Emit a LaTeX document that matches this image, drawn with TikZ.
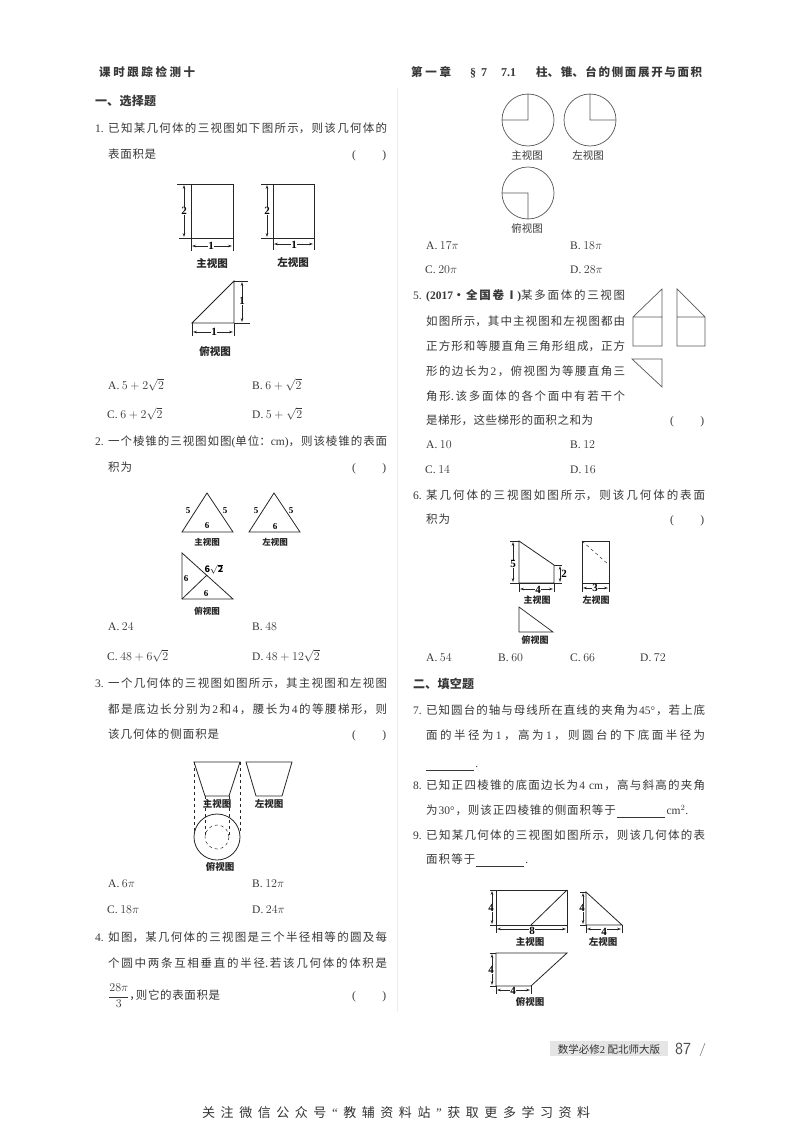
\documentclass[tikz,border=0pt]{standalone}
\usepackage{fontspec}
\setmainfont{Noto Sans CJK SC}
\newfontfamily\latfont{Liberation Serif}
\usetikzlibrary{arrows.meta}
\XeTeXlinebreaklocale "zh"
\XeTeXlinebreakskip=0pt plus 1fil
\setlength{\parindent}{0pt}
\definecolor{inkgray}{gray}{0.22}
\newcommand{\lat}[1]{\hskip 0pt plus 1fil{\latfont #1}\hskip 0pt plus 1fil}
\newcommand{\qnum}[1]{\makebox[13pt][l]{\latfont #1.}}
\newcommand{\slot}{{\latfont (}\hfill{\latfont )}}
\tikzset{
  rowtext/.style={anchor=west,inner sep=0pt,text width=#1,text height=10.5pt,text depth=1pt,
    text=inkgray,font=\fontsize{11.5}{13}\selectfont,execute at begin node={\parfillskip=0pt\relax}},
  choice/.style={anchor=west,inner sep=0pt,text=inkgray,font=\fontsize{11.5}{13}\selectfont},
  capt/.style={inner sep=0pt,text=black!85,font=\fontsize{#1}{#1}\selectfont\bfseries},
  capt/.default=10.5,
  dimlabel/.style={inner sep=0.6pt,fill=white,text=black,font=\fontsize{11}{11}\selectfont\latfont\bfseries},
  plainlabel/.style={inner sep=0pt,text=black,font=\fontsize{9}{9}\selectfont\latfont\bfseries},
  figline/.style={black!85,line width=0.8pt},
  thinline/.style={black!85,line width=0.5pt},
  dimarrow/.style={black!85,line width=0.5pt,{Stealth[length=4pt,width=2.6pt]}-{Stealth[length=4pt,width=2.6pt]}},
  roundline/.style={black!65,line width=0.7pt},
}
\begin{document}
\begin{tikzpicture}[x=1pt,y=-1pt]
\useasboundingbox (0,0) rectangle (800,1121);
\fill[white] (0,0) rectangle (800,1121);
\draw[black!7,line width=0.8pt] (397,88) -- (397,1012);

% Page header
\node[rowtext=96pt,font=\fontsize{11.5}{13}\selectfont\bfseries] (headleft) at (99,72) {课时跟踪检测十};
\node[rowtext=40pt,font=\fontsize{11.5}{13}\selectfont\bfseries] (headch) at (411,72) {第一章};
\node[rowtext=17pt,font=\fontsize{12}{13}\selectfont\latfont\bfseries] (headsec) at (470,72) {\S\hfill 7};
\node[rowtext=21pt,font=\fontsize{12}{13}\selectfont\latfont\bfseries] (headnum) at (501,72) {7.1};
\node[rowtext=166pt,font=\fontsize{11.5}{13}\selectfont\bfseries] (headtitle) at (536,72) {柱、锥、台的侧面展开与面积};
\node[rowtext=61pt,font=\fontsize{12}{13}\selectfont\bfseries] (partone) at (95,101) {一、选择题};

% Question 1
\node[rowtext=292pt] (qonea) at (95,128) {\qnum{1}已知某几何体的三视图如下图所示，则该几何体的};
\node[rowtext=48pt] (qoneb) at (108,154) {表面积是};
\node[rowtext=34pt] (qoneslot) at (352,154) {\slot};
\draw[figline] (191,184) rectangle (233,238);
\draw[thinline] (177,184) -- (191,184) (179,238) -- (191,238) (191,238) -- (191,251) (233,238) -- (233,251);
\draw[dimarrow] (184,185) -- (184,237);
\draw[dimarrow] (192,246) -- (232,246);
\node[dimlabel] (qonetwo) at (184,211) {2};
\node[dimlabel] (qoneone) at (211,246) {1};
\node[capt] (qonemain) at (212,263) {主视图};
\draw[figline] (273,184) rectangle (314,238);
\draw[thinline] (261,184) -- (273,184) (261,238) -- (273,238) (273,238) -- (273,250) (314,238) -- (314,250);
\draw[dimarrow] (267,185) -- (267,237);
\draw[dimarrow] (274,244) -- (313,244);
\node[dimlabel] (qoneltwo) at (267,211) {2};
\node[dimlabel] (qonelone) at (294,245) {1};
\node[capt] (qoneleft) at (293,263) {左视图};
\draw[figline] (192,323) -- (234,281) -- (234,323) -- cycle;
\draw[thinline] (234,281) -- (248,281) (234,323) -- (250,323) (192,323) -- (192,336) (234,323) -- (234,336);
\draw[dimarrow] (242,282) -- (242,322);
\draw[dimarrow] (193,332) -- (233,332);
\node[dimlabel] (qonetv) at (242,301) {1};
\node[dimlabel] (qoneth) at (214,332) {1};
\node[capt] (qonetop) at (215,351) {俯视图};
\node[choice] (qonechA) at (108,385) {{\latfont A.} $5+2\sqrt{2}$};
\node[choice] (qonechB) at (252,385) {{\latfont B.} $6+\sqrt{2}$};
\node[choice] (qonechC) at (107,414) {{\latfont C.} $6+2\sqrt{2}$};
\node[choice] (qonechD) at (252,414) {{\latfont D.} $5+\sqrt{2}$};

% Question 2
\node[rowtext=292pt] (qtwoa) at (95,441) {\qnum{2}一个棱锥的三视图如图{\latfont (}单位：{\latfont cm)}，则该棱锥的表面};
\node[rowtext=24pt] (qtwob) at (108,467) {积为};
\node[rowtext=34pt] (qtwoslot) at (352,467) {\slot};
\draw[figline] (182,532) -- (207,493) -- (233,532) -- cycle;
\node[plainlabel] (qtwoa5) at (188,511) {5};
\node[plainlabel] (qtwob5) at (225,511) {5};
\node[plainlabel] (qtwoc6) at (207,526) {6};
\node[capt=8.5] (qtwomain) at (207,542) {主视图};
\draw[figline] (249,532) -- (274,493) -- (300,532) -- cycle;
\node[plainlabel] (qtwod5) at (256,511) {5};
\node[plainlabel] (qtwoe5) at (291,511) {5};
\node[plainlabel] (qtwof6) at (275,527) {6};
\node[capt=8.5] (qtwoleft) at (275,542) {左视图};
\draw[figline] (182,553) -- (182,599) -- (233,599) -- cycle;
\draw[figline] (182,599) -- (207,575);
\node[plainlabel] (qtwoh) at (214,569) {$\mathbf{6\sqrt{2}}$};
\node[plainlabel] (qtwoi6) at (186,579) {6};
\node[plainlabel] (qtwoj6) at (206,594) {6};
\node[capt=8.5] (qtwotop) at (207,611) {俯视图};
\node[choice] (qtwochA) at (108,627) {{\latfont A.} $24$};
\node[choice] (qtwochB) at (252,627) {{\latfont B.} $48$};
\node[choice] (qtwochC) at (107,656) {{\latfont C.} $48+6\sqrt{2}$};
\node[choice] (qtwochD) at (252,656) {{\latfont D.} $48+12\sqrt{2}$};

% Question 3
\node[rowtext=292pt] (qthreea) at (95,683) {\qnum{3}一个几何体的三视图如图所示，其主视图和左视图};
\node[rowtext=279pt] (qthreeb) at (108,709) {都是底边长分别为\lat{2}和\lat{4}，腰长为\lat{4}的等腰梯形，则};
\node[rowtext=111pt] (qthreec) at (108,734) {该几何体的侧面积是};
\node[rowtext=34pt] (qthreeslot) at (352,734) {\slot};
\draw[figline] (194,762) -- (240,762) -- (229,796) -- (205,796) -- cycle;
\draw[figline] (246,762) -- (292,762) -- (282,796) -- (256,796) -- cycle;
\draw[thinline,dashed] (194,762) -- (194,832) (240,762) -- (240,832) (205,796) -- (205,838) (229,796) -- (229,838);
\draw[figline] (217,837) circle (23);
\draw[thinline,dashed] (217,837) circle (12);
\node[capt=9.5] (qthreemain) at (217,804) {主视图};
\node[capt=9.5] (qthreeleft) at (269,804) {左视图};
\node[capt=9.5] (qthreetop) at (220,867) {俯视图};
\node[choice] (qthreechA) at (108,884) {{\latfont A.} $6\pi$};
\node[choice] (qthreechB) at (252,884) {{\latfont B.} $12\pi$};
\node[choice] (qthreechC) at (107,910) {{\latfont C.} $18\pi$};
\node[choice] (qthreechD) at (252,910) {{\latfont D.} $24\pi$};

% Question 4
\node[rowtext=292pt] (qfoura) at (95,937) {\qnum{4}如图，某几何体的三视图是三个半径相等的圆及每};
\node[rowtext=279pt] (qfourb) at (108,963) {个圆中两条互相垂直的半径.若该几何体的体积是};
\node[rowtext=112pt] (qfourc) at (108,995) {$\displaystyle\frac{28\pi}{3}$，\hskip-5pt 则它的表面积是};
\node[rowtext=34pt] (qfourslot) at (352,995) {\slot};
\draw[roundline] (528,120) circle (26) (528,94) -- (528,120) -- (502,120);
\draw[roundline] (590,120) circle (26) (590,94) -- (590,120) -- (616,120);
\draw[roundline] (528,193) circle (26) (502,193) -- (528,193) -- (528,219);
\node[inner sep=0pt,font=\fontsize{10.5}{10}\selectfont,text=inkgray] (qfourmain) at (527,156) {主视图};
\node[inner sep=0pt,font=\fontsize{10.5}{10}\selectfont,text=inkgray] (qfourleft) at (588,156) {左视图};
\node[inner sep=0pt,font=\fontsize{10.5}{10}\selectfont,text=inkgray] (qfourtop) at (527,228) {俯视图};
\node[choice] (qfourchA) at (426,246) {{\latfont A.} $17\pi$};
\node[choice] (qfourchB) at (570,246) {{\latfont B.} $18\pi$};
\node[choice] (qfourchC) at (425,270) {{\latfont C.} $20\pi$};
\node[choice] (qfourchD) at (570,270) {{\latfont D.} $28\pi$};

% Question 5
\node[rowtext=212pt] (qfivea) at (413,295) {\qnum{5}\textbf{{\latfont (2017}·全国卷Ⅰ{\latfont )}}某多面体的三视图};
\node[rowtext=199pt] (qfiveb) at (426,321) {如图所示，其中主视图和左视图都由};
\node[rowtext=199pt] (qfivec) at (426,346) {正方形和等腰直角三角形组成，正方};
\node[rowtext=199pt] (qfived) at (426,371) {形的边长为\lat{2}，俯视图为等腰直角三};
\node[rowtext=199pt] (qfivee) at (426,396) {角形.该多面体的各个面中有若干个};
\node[rowtext=167pt] (qfivef) at (426,420) {是梯形，这些梯形的面积之和为};
\node[rowtext=34pt] (qfiveslot) at (670,420) {\slot};
\draw[roundline] (633,317) rectangle (662,346) (633,317) -- (662,289) -- (662,317);
\draw[roundline] (677,317) rectangle (705,346) (677,317) -- (677,289) -- (705,317);
\draw[roundline] (632,359) -- (662,359) -- (662,387) -- cycle;
\node[choice] (qfivechA) at (426,445) {{\latfont A.} $10$};
\node[choice] (qfivechB) at (570,445) {{\latfont B.} $12$};
\node[choice] (qfivechC) at (425,470) {{\latfont C.} $14$};
\node[choice] (qfivechD) at (570,470) {{\latfont D.} $16$};

% Question 6
\node[rowtext=292pt] (qsixa) at (413,495) {\qnum{6}某几何体的三视图如图所示，则该几何体的表面};
\node[rowtext=24pt] (qsixb) at (426,519) {积为};
\node[rowtext=34pt] (qsixslot) at (670,519) {\slot};
\draw[figline] (519,541) -- (519,583) -- (554,583) -- (554,565) -- cycle;
\draw[thinline] (510,541) -- (519,541) (510,583) -- (562,583) (554,565) -- (562,565) (519,583) -- (519,592) (554,583) -- (554,592);
\draw[dimarrow] (513,542) -- (513,582);
\draw[dimarrow] (560,566) -- (560,582);
\draw[dimarrow] (520,589) -- (553,589);
\node[dimlabel] (qsixfive) at (513,564) {5};
\node[dimlabel,fill=none] (qsixtwo) at (564,574) {2};
\node[dimlabel] (qsixfour) at (538,590) {4};
\node[capt=9] (qsixmain) at (537,600) {主视图};
\draw[figline] (582,541) rectangle (609,583);
\draw[thinline,dashed] (582,541) -- (609,565);
\draw[thinline] (582,583) -- (582,592) (609,583) -- (609,592);
\draw[dimarrow] (583,588) -- (608,588);
\node[dimlabel] (qsixthree) at (595,588) {3};
\node[capt=9] (qsixleft) at (596,600) {左视图};
\draw[thinline,line width=0.7pt] (519,607) -- (519,632) -- (553,632) -- cycle;
\node[capt=9] (qsixtop) at (535,640) {俯视图};
\node[choice] (qsixchA) at (426,658) {{\latfont A.} $54$};
\node[choice] (qsixchB) at (498,658) {{\latfont B.} $60$};
\node[choice] (qsixchC) at (570,658) {{\latfont C.} $66$};
\node[choice] (qsixchD) at (640,658) {{\latfont D.} $72$};

% Fill in the blanks
\node[rowtext=61pt,font=\fontsize{12}{13}\selectfont\bfseries] (parttwo) at (413,684) {二、填空题};
\node[rowtext=292pt] (qsevena) at (413,710) {\qnum{7}已知圆台的轴与母线所在直线的夹角为\lat{45°}，若上底};
\node[rowtext=279pt] (qsevenb) at (426,735) {面的半径为\lat{1}，高为\lat{1}，则圆台的下底面半径为};
\node[rowtext=52pt] (qsevenc) at (426,763) {\rule[-2.5pt]{48pt}{0.4pt}\hfill{\latfont .}};
\node[rowtext=292pt] (qeighta) at (413,785) {\qnum{8}已知正四棱锥的底面边长为\lat{4 cm}，高与斜高的夹角};
\node[rowtext=262pt] (qeightb) at (426,810) {为\lat{30°}，则该正四棱锥的侧面积等于\lat{\rule[-2.5pt]{48pt}{0.4pt}}\lat{cm$^2$.}};
\node[rowtext=292pt] (qninea) at (413,835) {\qnum{9}已知某几何体的三视图如图所示，则该几何体的表};
\node[rowtext=102pt] (qnineb) at (426,859) {面积等于\lat{\rule[-2.5pt]{48pt}{0.4pt}}{\latfont .}};

% Question 9 figures
\draw[figline] (496,890) rectangle (567,925);
\draw[figline] (531,925) -- (567,890);
\draw[thinline] (490,890) -- (496,890) (490,925) -- (496,925) (496,925) -- (496,933) (567,925) -- (567,933);
\draw[dimarrow] (492,891) -- (492,924);
\draw[dimarrow] (497,929) -- (566,929);
\node[dimlabel] (qnineva) at (491,908) {4};
\node[dimlabel] (qnineha) at (532,931) {8};
\node[capt=9.5] (qninemain) at (530,942) {主视图};
\draw[figline] (586,892) -- (586,925) -- (622,925) -- cycle;
\draw[thinline] (580,892) -- (586,892) (580,925) -- (586,925) (586,925) -- (586,933) (622,925) -- (622,933);
\draw[dimarrow] (583,893) -- (583,924);
\draw[dimarrow] (587,929) -- (621,929);
\node[dimlabel] (qninevb) at (582,908) {4};
\node[dimlabel] (qninehb) at (604,932) {4};
\node[capt=9.5] (qnineleft) at (603,942) {左视图};
\draw[figline] (496,953) -- (567,953) -- (531,986) -- (496,986) -- cycle;
\draw[thinline] (490,953) -- (496,953) (490,986) -- (496,986) (496,986) -- (496,994) (531,986) -- (531,994);
\draw[dimarrow] (492,954) -- (492,985);
\draw[dimarrow] (497,990) -- (530,990);
\node[dimlabel] (qninevc) at (491,970) {4};
\node[dimlabel] (qninehc) at (513,991) {4};
\node[capt=9.5] (qninetop) at (530,1002) {俯视图};

% Page footer
\fill[black!10] (550,1041) rectangle (668,1056);
\node[inner sep=0pt,text=black!80,font=\fontsize{10.5}{11}\selectfont] (footbook) at (609,1049) {数学必修{\latfont 2} 配北师大版};
\node[inner sep=0pt,text=black!70,font=\fontsize{17}{17}\selectfont\sffamily] (footpage) at (683,1049) {87};
\draw[black!50,line width=0.6pt] (705,1043) -- (700,1056);
\node[rowtext=388pt,font=\fontsize{13}{14}\selectfont,text=black!80] (footnote) at (202,1113) {关注微信公众号\lat{“}教辅资料站\lat{”}获取更多学习资料};
\end{tikzpicture}
\end{document}
